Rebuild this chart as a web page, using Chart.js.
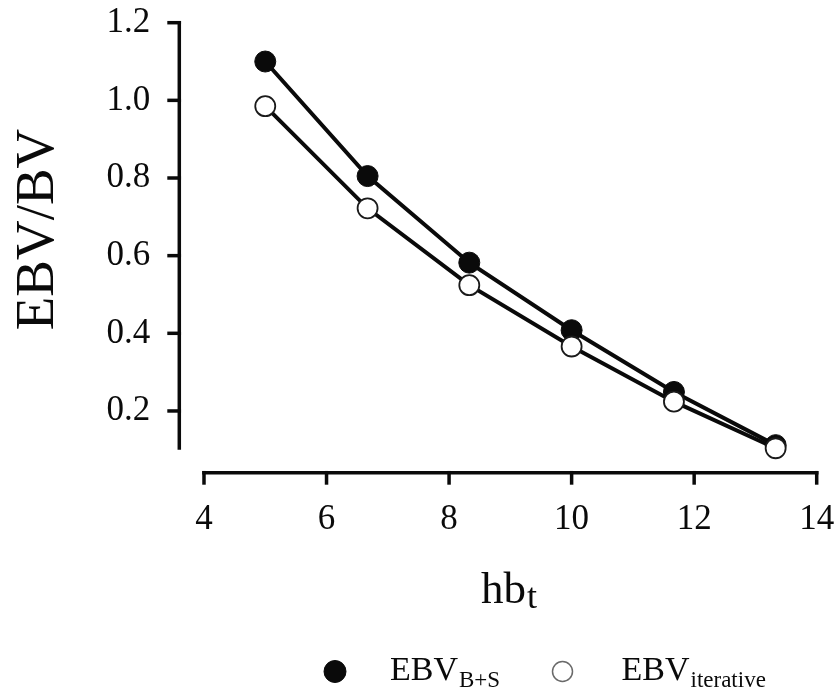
<!DOCTYPE html>
<html>
<head>
<meta charset="utf-8">
<title>EBV/BV vs hbt</title>
<script src="https://cdn.jsdelivr.net/npm/chart.js@4/dist/chart.umd.min.js"></script>
<style>
  html, body { margin: 0; padding: 0; background: #ffffff; }
  #wrap { width: 838px; height: 692px; position: relative; }
</style>
</head>
<body>
<div id="wrap"><canvas id="c" width="838" height="692"></canvas></div>
<script>
// x positions (hb_t) shared by both series
const hbt = [5, 6.67, 8.33, 10, 11.67, 13.33];
// EBV / BV ratio, combined (B+S) estimate
const ebvBS = [1.10, 0.805, 0.582, 0.408, 0.249, 0.112];
// EBV / BV ratio, iterative estimate
const ebvIter = [0.985, 0.722, 0.524, 0.366, 0.224, 0.104];
// tick labels
const xTicks = [4, 6, 8, 10, 12, 14];
const yTicks = [0.2, 0.4, 0.6, 0.8, 1.0, 1.2];
// axis extents
const xMin = 3.597, xMax = 14;
const yMin = 0.041, yMax = 1.2;
const yAxisFloor = 0.1;

const SERIF = '"Liberation Serif", "Times New Roman", serif';
const INK = '#0a0a0a';
const AXIS_W = 3.5;
const TICK_LEN = 12;

const toPoints = (xs, ys) => xs.map((x, i) => ({ x: x, y: ys[i] }));

// keep the plot box fixed: no extra room for edge labels
const noEdgePadding = s => {
  s.paddingTop = 0; s.paddingBottom = 0; s.paddingLeft = 0; s.paddingRight = 0;
};

// detached axis lines with heavy tick marks, titles with subscripts, legend row
const decor = {
  id: 'decor',
  beforeDatasetsDraw(chart) {
    const ctx = chart.ctx;
    const xs = chart.scales.x, ys = chart.scales.y;
    const area = chart.chartArea;
    ctx.save();
    ctx.strokeStyle = INK;
    ctx.lineWidth = AXIS_W;
    ctx.lineCap = 'butt';
    // y axis line: from top tick down to the floor value
    ctx.beginPath();
    ctx.moveTo(area.left, ys.getPixelForValue(yTicks[yTicks.length - 1]) - AXIS_W / 2);
    ctx.lineTo(area.left, ys.getPixelForValue(yAxisFloor));
    ctx.stroke();
    // y tick marks pointing left
    ys.ticks.forEach(t => {
      const py = ys.getPixelForValue(t.value);
      ctx.beginPath();
      ctx.moveTo(area.left - TICK_LEN, py);
      ctx.lineTo(area.left + AXIS_W / 2, py);
      ctx.stroke();
    });
    // x axis line: between first and last tick
    ctx.beginPath();
    ctx.moveTo(xs.getPixelForValue(xTicks[0]) - AXIS_W / 2, area.bottom);
    ctx.lineTo(xs.getPixelForValue(xTicks[xTicks.length - 1]) + AXIS_W / 2, area.bottom);
    ctx.stroke();
    // x tick marks pointing down
    xs.ticks.forEach(t => {
      const px = xs.getPixelForValue(t.value);
      ctx.beginPath();
      ctx.moveTo(px, area.bottom - AXIS_W / 2);
      ctx.lineTo(px, area.bottom + TICK_LEN);
      ctx.stroke();
    });
    ctx.restore();
  },
  afterDraw(chart) {
    const ctx = chart.ctx;
    ctx.save();
    ctx.fillStyle = INK;
    ctx.textBaseline = 'alphabetic';

    // y title
    ctx.save();
    ctx.translate(53, 229.5);
    ctx.rotate(-Math.PI / 2);
    ctx.textAlign = 'center';
    ctx.font = '55px ' + SERIF;
    ctx.fillText('EBV/BV', 0, 0);
    ctx.restore();

    // x title: hb with subscript t
    ctx.textAlign = 'left';
    ctx.font = '45px ' + SERIF;
    const hbX = 481;
    ctx.fillText('hb', hbX, 603);
    const hbW = ctx.measureText('hb').width;
    ctx.font = '36px ' + SERIF;
    ctx.fillText('t', hbX + hbW + 1, 608);

    // legend
    const items = [
      { cx: 335, fill: INK, stroke: INK, r: 11, lw: 1, textX: 390, sub: 'B+S' },
      { cx: 562.5, fill: '#ffffff', stroke: '#6a6a6a', r: 10, lw: 1.5, textX: 621.5, sub: 'iterative' }
    ];
    items.forEach(it => {
      ctx.beginPath();
      ctx.arc(it.cx, 671.5, it.r, 0, Math.PI * 2);
      ctx.fillStyle = it.fill;
      ctx.fill();
      ctx.lineWidth = it.lw;
      ctx.strokeStyle = it.stroke;
      ctx.stroke();
      ctx.fillStyle = INK;
      ctx.font = '34px ' + SERIF;
      ctx.fillText('EBV', it.textX, 679.5);
      const w = ctx.measureText('EBV').width;
      ctx.font = '23px ' + SERIF;
      ctx.fillText(it.sub, it.textX + w + 1, 687);
    });
    ctx.restore();
  }
};

const hiddenTickGrid = {
  display: true,
  drawOnChartArea: false,
  drawTicks: true,
  tickLength: TICK_LEN,
  tickColor: 'rgba(0,0,0,0)',
  color: 'rgba(0,0,0,0)'
};

new Chart(document.getElementById('c'), {
  type: 'line',
  data: {
    datasets: [
      {
        label: 'EBV B+S',
        data: toPoints(hbt, ebvBS),
        order: 2,
        borderColor: INK,
        borderWidth: 4,
        tension: 0,
        fill: false,
        pointRadius: 10.5,
        pointBackgroundColor: INK,
        pointBorderColor: INK,
        pointBorderWidth: 1
      },
      {
        label: 'EBV iterative',
        data: toPoints(hbt, ebvIter),
        order: 1,
        borderColor: INK,
        borderWidth: 4,
        tension: 0,
        fill: false,
        pointRadius: 10,
        pointBackgroundColor: '#ffffff',
        pointBorderColor: '#1a1a1a',
        pointBorderWidth: 1.8
      }
    ]
  },
  options: {
    responsive: false,
    animation: false,
    devicePixelRatio: 1,
    clip: false,
    layout: { padding: { left: 0, right: 21.3, top: 22.7, bottom: 0 } },
    plugins: { legend: { display: false }, tooltip: { enabled: false } },
    scales: {
      x: {
        type: 'linear',
        min: xMin,
        max: xMax,
        afterBuildTicks: s => { s.ticks = xTicks.map(v => ({ value: v })); },
        afterFit: s => { s.height = 692 - 472.7; noEdgePadding(s); },
        border: { display: false },
        grid: hiddenTickGrid,
        ticks: {
          color: INK,
          padding: 14,
          maxRotation: 0,
          autoSkip: false,
          font: { family: SERIF, size: 35 },
          callback: v => String(v)
        }
      },
      y: {
        type: 'linear',
        min: yMin,
        max: yMax,
        afterBuildTicks: s => { s.ticks = yTicks.map(v => ({ value: v })); },
        afterFit: s => { s.width = 179.3; noEdgePadding(s); },
        border: { display: false },
        grid: hiddenTickGrid,
        ticks: {
          color: INK,
          padding: 17,
          autoSkip: false,
          font: { family: SERIF, size: 35 },
          callback: v => Number(v).toFixed(1)
        }
      }
    }
  },
  plugins: [decor]
});
</script>
</body>
</html>
